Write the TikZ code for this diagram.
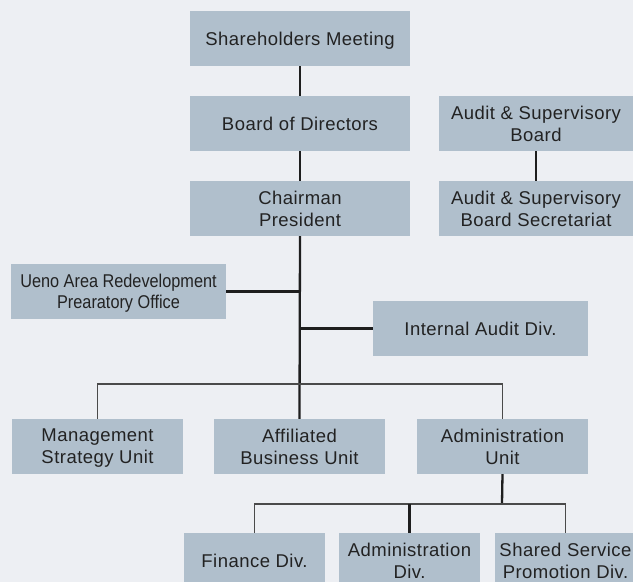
\documentclass[tikz,border=0pt]{standalone}
\usepackage{fontspec}
\setmainfont[LetterSpace=2.5]{Liberation Sans}
\newfontfamily\narrowfont[FakeStretch=0.88]{Liberation Sans}
\definecolor{bgcol}{HTML}{EDEFF3}
\definecolor{boxcol}{HTML}{B0BFCC}
\definecolor{txtcol}{HTML}{222222}
\definecolor{thickcol}{HTML}{1E1E1E}
\definecolor{thincol}{HTML}{4A4A4A}
\begin{document}
\begin{tikzpicture}[x=1pt,y=-1pt,
  orgbox/.style={fill=boxcol, draw=none, inner sep=0pt, align=center, text=txtcol,
     text depth=0pt, font=\fontsize{18.5}{22}\selectfont},
  trunk/.style={draw=thickcol, line width=2.3pt},
  branch/.style={draw=thincol, line width=1.2pt}]
\useasboundingbox (0,0) rectangle (633,582);
\clip (0,0) rectangle (633,582);
\fill[bgcol] (0,0) rectangle (633,582);

\node[orgbox, minimum width=220pt, minimum height=55pt] (sm) at (300,38.5) {Shareholders Meeting};
\node[orgbox, minimum width=220pt, minimum height=55pt] (bd) at (300,123.5) {Board of Directors};
\node[orgbox, minimum width=220pt, minimum height=55pt] (cp) at (300,208.5) {Chairman\\President};
\node[orgbox, minimum width=194pt, minimum height=55pt] (asb) at (536,123.5) {Audit \& Supervisory\\Board};
\node[orgbox, minimum width=194pt, minimum height=55pt] (asbs) at (536,208.5) {Audit \& Supervisory\\Board Secretariat};
\node[orgbox, minimum width=215pt, minimum height=55pt, font=\narrowfont\fontsize{18.5}{21}\selectfont] (ueno) at (118.5,291.5) {Ueno Area Redevelopment\\Prearatory Office};
\node[orgbox, minimum width=215pt, minimum height=55pt] (ia) at (480.5,328.5) {Internal Audit Div.};
\node[orgbox, minimum width=171pt, minimum height=55pt] (msu) at (97.5,446.5) {Management\\Strategy Unit};
\node[orgbox, minimum width=171pt, minimum height=55pt] (abu) at (299.5,446.5) {Affiliated\\Business Unit};
\node[orgbox, minimum width=171pt, minimum height=55pt] (au) at (502.5,446.5) {Administration\\Unit};
\node[orgbox, minimum width=141pt, minimum height=55pt] (fd) at (254.5,560.5) {Finance Div.};
\node[orgbox, minimum width=141pt, minimum height=55pt] (ad) at (409.5,560.5) {Administration\\Div.};
\node[orgbox, minimum width=141pt, minimum height=55pt] (ssp) at (565.5,560.5) {Shared Service\\Promotion Div.};

\coordinate (bus) at (300,384);
\coordinate (sbus) at (502,504);

\draw[trunk] (sm.south) -- (bd.north);
\draw[trunk] (bd.south) -- (cp.north);
\draw[trunk] (asb.south) -- (asbs.north);
\draw[trunk] (cp.south) -- (abu.north);
\draw[trunk] (ueno.east) -- (ueno.east -| cp.south);
\draw[trunk] (ia.west) -- (ia.west -| cp.south);
\draw[branch] (msu.north) |- (bus) -| (au.north);
\draw[trunk] (au.south) -- (sbus);
\draw[branch] (fd.north) |- (sbus) -| (ssp.north);
\draw[trunk] (ad.north |- sbus) -- (ad.north);
\end{tikzpicture}
\end{document}
